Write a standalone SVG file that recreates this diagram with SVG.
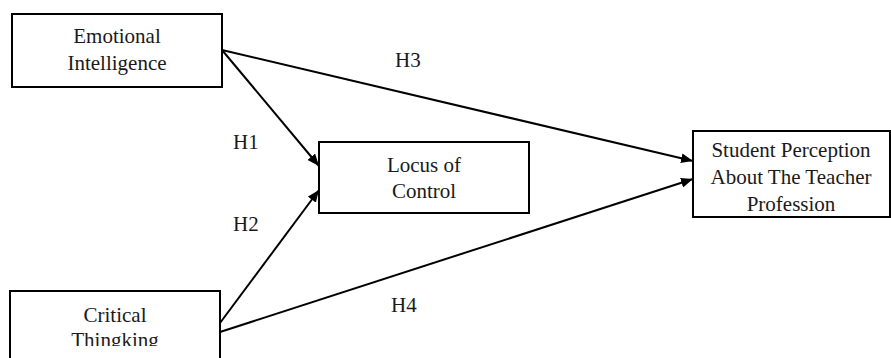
<svg xmlns="http://www.w3.org/2000/svg" width="891" height="358" viewBox="0 0 891 358">
<style>
.box{fill:#fff;stroke:#000;stroke-width:2}
.t{font-family:"Liberation Serif","Times New Roman",serif;font-size:21px;fill:#1a1a1a;text-anchor:middle}
.lbl{font-family:"Liberation Serif","Times New Roman",serif;font-size:21px;fill:#1a1a1a}
.c{stroke:#000;stroke-width:2;fill:none;marker-end:url(#ah)}
</style>
<defs>
<marker id="ah" markerUnits="userSpaceOnUse" markerWidth="12" markerHeight="10" refX="12" refY="5" orient="auto">
<path d="M0,0 L12,5 L0,10 z" fill="#000"/>
</marker>
<clipPath id="ctclip"><rect x="0" y="0" width="891" height="346"/></clipPath>
</defs>
<rect width="891" height="358" fill="#fff"/>
<g id="connectors">
<line class="c" x1="222" y1="50" x2="319" y2="166"/>
<line class="c" x1="222" y1="50" x2="693" y2="161"/>
<line class="c" x1="220" y1="323" x2="319" y2="190"/>
<line class="c" x1="220" y1="332" x2="693" y2="179"/>
</g>
<g id="node-ei">
<rect class="box" x="12" y="14" width="210" height="73"/>
<text class="t" x="117" y="43">Emotional</text>
<text class="t" x="117" y="70">Intelligence</text>
</g>
<g id="node-ct">
<rect class="box" x="10" y="291" width="210" height="80"/>
<text class="t" x="115" y="322">Critical</text>
<text class="t" x="115" y="347" clip-path="url(#ctclip)">Thingking</text>
</g>
<g id="node-loc">
<rect class="box" x="319" y="142" width="210" height="71"/>
<text class="t" x="424" y="172">Locus of</text>
<text class="t" x="424" y="198">Control</text>
</g>
<g id="node-sp">
<rect class="box" x="693" y="131" width="197" height="86"/>
<text class="t" x="791" y="157">Student Perception</text>
<text class="t" x="791" y="184">About The Teacher</text>
<text class="t" x="791" y="211">Profession</text>
</g>
<g id="labels">
<text class="lbl" x="395" y="67">H3</text>
<text class="lbl" x="233" y="149">H1</text>
<text class="lbl" x="233" y="231">H2</text>
<text class="lbl" x="391" y="312">H4</text>
</g>
</svg>
